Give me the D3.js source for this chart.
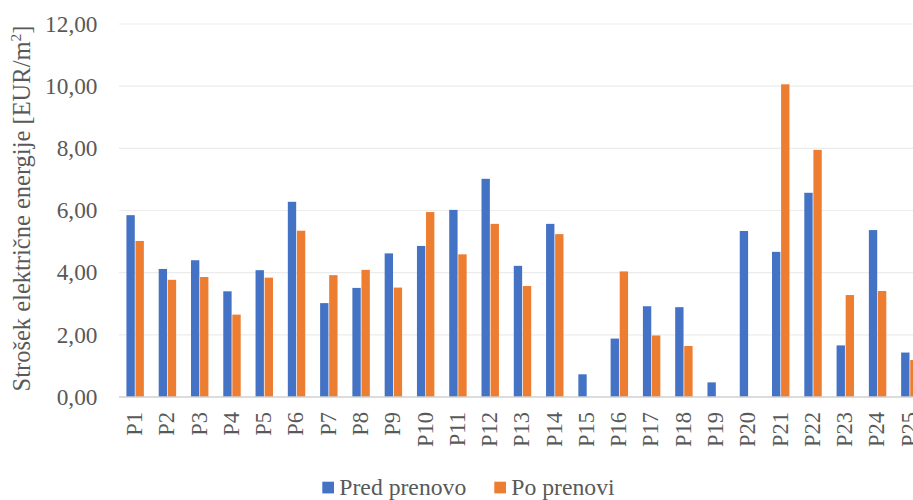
<!DOCTYPE html>
<html>
<head>
<meta charset="utf-8">
<script src="https://cdn.jsdelivr.net/npm/d3@7"></script>
<style>
  html, body { margin: 0; padding: 0; background: #fff; overflow: hidden; }
  svg { display: block; }
</style>
</head>
<body>
<div id="chart"></div>
<script>
// Building labels and electricity cost per m² before / after renovation
const categories = ["P1","P2","P3","P4","P5","P6","P7","P8","P9","P10","P11","P12","P13",
                    "P14","P15","P16","P17","P18","P19","P20","P21","P22","P23","P24","P25"];
const predPrenovo = [5.85,4.12,4.40,3.40,4.08,6.28,3.02,3.51,4.62,4.86,6.02,7.02,4.22,
                     5.57,0.73,1.88,2.92,2.89,0.47,5.34,4.67,6.57,1.66,5.37,1.43];
const poPrenovi   = [5.02,3.77,3.86,2.65,3.84,5.35,3.92,4.09,3.52,5.95,4.59,5.57,3.57,
                     5.24,0,4.04,1.98,1.64,0,0,10.06,7.95,3.28,3.41,1.19];
const yTicks = [0, 2, 4, 6, 8, 10, 12];
const seriesNames = ["Pred prenovo", "Po prenovi"];
const seriesColors = ["#4472C4", "#ED7D31"];

const W = 913, H = 500;
const margin = { left: 119, top: 24, bottom: 103 };
const plotRight = 926;   // plot area runs past the right edge of the page
const FONT = "'Liberation Serif', 'Times New Roman', 'DejaVu Serif', serif";
const TXT = "#595959";

const svg = d3.select("#chart").append("svg")
  .attr("width", W).attr("height", H)
  .attr("font-family", FONT);

const x = d3.scaleBand().domain(categories).range([margin.left, plotRight]);
const y = d3.scaleLinear().domain([0, 12]).range([H - margin.bottom, margin.top]);

// horizontal gridlines
svg.append("g").selectAll("line").data(yTicks.filter(t => t > 0)).join("line")
  .attr("x1", margin.left).attr("x2", plotRight)
  .attr("y1", d => y(d)).attr("y2", d => y(d))
  .attr("stroke", "#ececec").attr("stroke-width", 1.2);

// y tick labels
const fmt = v => d3.format(".2f")(v).replace(".", ",");
svg.append("g").selectAll("text").data(yTicks).join("text")
  .attr("x", 97.5).attr("y", d => y(d)).attr("dy", "0.33em")
  .attr("text-anchor", "end").attr("font-size", 23.3)
  .attr("fill", TXT)
  .text(fmt);

// bars
const groupW = x.bandwidth() * 0.54;
const sub = d3.scaleBand().domain(seriesNames).range([0, groupW]).paddingInner(0.08);
const data = categories.map((c, i) => ({ c, vals: [predPrenovo[i], poPrenovi[i]] }));
const groups = svg.append("g").selectAll("g").data(data).join("g")
  .attr("transform", d => `translate(${x(d.c) + (x.bandwidth() - groupW) / 2},0)`);
groups.selectAll("rect")
  .data(d => d.vals.map((v, k) => ({ v, k })).filter(e => e.v > 0))
  .join("rect")
  .attr("x", e => sub(seriesNames[e.k]))
  .attr("width", sub.bandwidth())
  .attr("y", e => y(e.v))
  .attr("height", e => y(0) - y(e.v))
  .attr("fill", e => seriesColors[e.k]);

// baseline
svg.append("line")
  .attr("x1", margin.left).attr("x2", plotRight)
  .attr("y1", y(0)).attr("y2", y(0))
  .attr("stroke", "#d0d0d0").attr("stroke-width", 1.5);

// category labels, rotated
svg.append("g").selectAll("text").data(categories).join("text")
  .attr("transform", d => `translate(${x(d) + x.bandwidth() / 2 - 1},${y(0) + 15}) rotate(-90)`)
  .attr("text-anchor", "end").attr("dy", "0.35em")
  .attr("font-size", 22.5).attr("fill", TXT)
  .text(d => d);

// y axis title
const title = svg.append("text")
  .attr("transform", `translate(30,${(y(0) + y(12)) / 2 - 2}) rotate(-90)`)
  .attr("text-anchor", "middle").attr("font-size", 24.5).attr("fill", TXT);
title.append("tspan").text("Strošek električne energije [EUR/m");
title.append("tspan").attr("dy", -9).attr("font-size", 15.5).text("2");
title.append("tspan").attr("dy", 9).text("]");

// legend
const legendX = [322.3, 494.3];
const leg = svg.append("g").selectAll("g").data(seriesNames).join("g")
  .attr("transform", (d, i) => `translate(${legendX[i]},481.7)`);
leg.append("rect").attr("width", 11.7).attr("height", 11.7)
  .attr("fill", (d, i) => seriesColors[i]);
leg.append("text").attr("x", 17).attr("y", 13.3)
  .attr("font-size", 23.7).attr("fill", TXT).text(d => d);
</script>
</body>
</html>
